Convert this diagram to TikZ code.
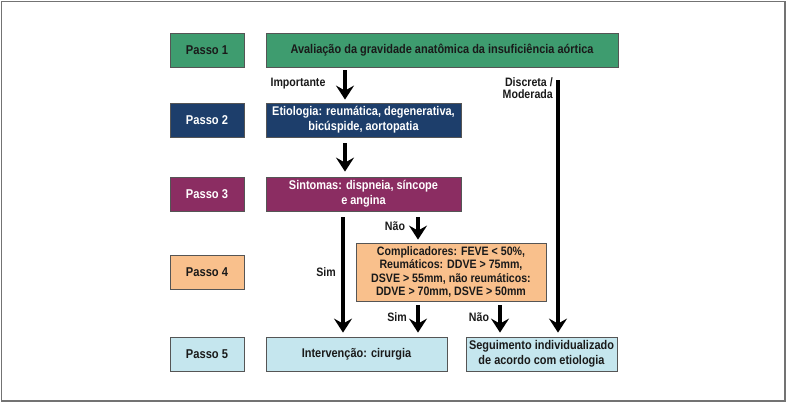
\documentclass[tikz,border=0pt]{standalone}
\usepackage{fontspec}
\setmainfont{Liberation Sans}[FakeStretch=0.87]
\usetikzlibrary{arrows.meta}
\definecolor{pgreen}{HTML}{3E9C6F}
\definecolor{pnavy}{HTML}{1D3E6B}
\definecolor{ppurple}{HTML}{8B2D62}
\definecolor{porange}{HTML}{F9C08C}
\definecolor{pblue}{HTML}{C5E6EE}
\definecolor{pborder}{HTML}{555555}
\definecolor{ptext}{HTML}{1A1A1A}
\begin{document}
\begin{tikzpicture}[x=1pt,y=-1pt,
  box/.style={draw=pborder,line width=0.8pt,inner sep=0pt,align=center,font=\bfseries\fontsize{12.6}{15}\selectfont},
  passo/.style={box,minimum width=74pt,minimum height=34pt,font=\bfseries\fontsize{12.8}{15}\selectfont},
  lbl/.style={font=\bfseries\fontsize{12.2}{12.3}\selectfont,text=ptext,inner sep=0pt},
  arr/.style={line width=3.6pt,-{Stealth[width=18pt,length=14pt,inset=5pt]}}]
\useasboundingbox (0,0) rectangle (787,403);
\draw[draw=gray!110,line width=1.2pt] (1.5,1.5) rectangle (785,401);
% step boxes
\node[passo,fill=pgreen,text=ptext] (p1) at (207,50) {Passo 1};
\node[passo,fill=pnavy,text=white] (p2) at (207,120) {Passo 2};
\node[passo,fill=ppurple,text=white] (p3) at (207,194) {Passo 3};
\node[passo,fill=porange,text=ptext] (p4) at (207,272.5) {Passo 4};
\node[passo,fill=pblue,text=ptext] (p5) at (207,354) {Passo 5};
% content boxes
\node[box,fill=pgreen,text=ptext,minimum width=352pt,minimum height=34pt] (aval) at (442,50) {Avaliação da gravidade anatômica da insuficiência aórtica};
\node[box,fill=pnavy,text=white,minimum width=195pt,minimum height=34pt] (etio) at (363.5,120) {Etiologia: reumática, degenerativa,\\bicúspide, aortopatia};
\node[box,fill=ppurple,text=white,minimum width=195pt,minimum height=34pt] (sint) at (363.5,194) {Sintomas: dispneia, síncope\\e angina};
\node[box,fill=porange,text=ptext,minimum width=190pt,minimum height=58pt,font=\bfseries\fontsize{12.2}{13.3}\selectfont] (comp) at (451,272) {Complicadores: FEVE < 50\%,\\Reumáticos: DDVE > 75mm,\\DSVE > 55mm, não reumáticos:\\DDVE > 70mm, DSVE > 50mm};
\node[box,fill=pblue,text=ptext,minimum width=181pt,minimum height=34pt] (interv) at (356.5,354) {Intervenção: cirurgia};
\node[box,fill=pblue,text=ptext,minimum width=151pt,minimum height=34pt] (seg) at (541.5,354) {Seguimento individualizado\\de acordo com etiologia};
% arrow columns
\coordinate (xa) at (345,0);
\coordinate (xs) at (343,0);
\coordinate (xn) at (418,0);
\coordinate (xm) at (500,0);
\coordinate (xd) at (558,0);
\draw[arr,shorten <=3pt,shorten >=3pt] (aval.south -| xa) -- (etio.north -| xa);
\draw[arr,shorten <=6pt,shorten >=5pt] (etio.south -| xa) -- (sint.north -| xa);
\draw[arr,shorten <=6pt,shorten >=4pt] (sint.south -| xs) -- (interv.north -| xs);
\draw[arr,shorten <=6pt,shorten >=3pt] (sint.south -| xn) -- (comp.north -| xn);
\draw[arr,shorten <=4pt,shorten >=4pt] (comp.south -| xn) -- (interv.north -| xn);
\draw[arr,shorten <=4pt,shorten >=4pt] (comp.south -| xm) -- (seg.north -| xm);
\draw[arr,shorten <=13pt,shorten >=4pt] (aval.south -| xd) -- (seg.north -| xd);
% labels
\node[lbl] (limp) at (298,84) {Importante};
\node[lbl,align=right,anchor=east] (ldisc) at (553,88) {Discreta /\\Moderada};
\node[lbl] (lnao1) at (395,226) {Não};
\node[lbl] (lsim1) at (326,272) {Sim};
\node[lbl] (lsim2) at (397,317) {Sim};
\node[lbl] (lnao2) at (479,317) {Não};
\end{tikzpicture}
\end{document}
